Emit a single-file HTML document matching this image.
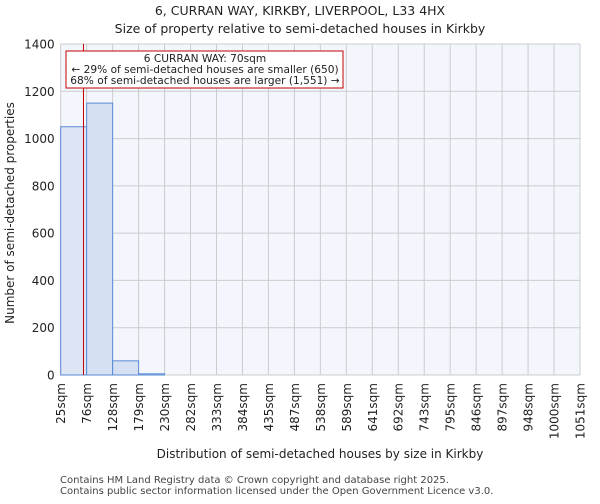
<!DOCTYPE html>
<html><head><meta charset="utf-8"><style>
body{margin:0;background:#fff;font-family:"DejaVu Sans","Liberation Sans",sans-serif}
</style></head><body>
<svg width="600" height="500" xmlns="http://www.w3.org/2000/svg" font-family="DejaVu Sans, Liberation Sans, sans-serif">
<text x="300" y="15" text-anchor="middle" font-size="12.5" fill="#222">6, CURRAN WAY, KIRKBY, LIVERPOOL, L33 4HX</text>
<text x="300" y="33" text-anchor="middle" font-size="12.5" fill="#222">Size of property relative to semi-detached houses in Kirkby</text>
<rect x="60.7" y="44" width="519.3" height="331" fill="#f3f6fd"/>
<g id="grid"></g><g id="bars"></g><g id="axes"></g>
<line id="marker" y1="44" y2="375" stroke="#c00000" stroke-width="1"/>
<rect x="66" y="51" width="277" height="37" fill="#fff" stroke="#c00000" stroke-width="1"/>
<text x="205" y="62" text-anchor="middle" font-size="10.6" fill="#222">6 CURRAN WAY: 70sqm</text>
<text x="205" y="73" text-anchor="middle" font-size="10.6" fill="#222">← 29% of semi-detached houses are smaller (650)</text>
<text x="205" y="84" text-anchor="middle" font-size="10.6" fill="#222">68% of semi-detached houses are larger (1,551) →</text>
<text transform="translate(14,213) rotate(-90)" text-anchor="middle" font-size="12" fill="#222">Number of semi-detached properties</text>
<text x="320" y="458" text-anchor="middle" font-size="12" fill="#222">Distribution of semi-detached houses by size in Kirkby</text>
<text x="60" y="483" font-size="10" fill="#444">Contains HM Land Registry data © Crown copyright and database right 2025.</text>
<text x="60" y="494" font-size="10" fill="#444">Contains public sector information licensed under the Open Government Licence v3.0.</text>
</svg>
<script>
const binLabels=["25sqm","76sqm","128sqm","179sqm","230sqm","282sqm","333sqm","384sqm","435sqm","487sqm","538sqm","589sqm","641sqm","692sqm","743sqm","795sqm","846sqm","897sqm","948sqm","1000sqm","1051sqm"];
const binEdges=[25,76.3,127.6,178.9,230.2,281.5,332.8,384.1,435.4,486.7,538,589.3,640.6,691.9,743.2,794.5,845.8,897.1,948.4,999.7,1051];
const counts=[1050,1150,60,5,0,0,0,0,0,0,0,0,0,0,0,0,0,0,0,0];
const yTicks=[0,200,400,600,800,1000,1200,1400];
const propertySize=70;
const NS="http://www.w3.org/2000/svg";
const X0=60.7,X1=580,Y0=375,Y1=44;
const xs=v=>X0+(v-binEdges[0])/(binEdges[binEdges.length-1]-binEdges[0])*(X1-X0);
const ys=v=>Y0-(v-0)/1400*(Y0-Y1);
function mk(t,a,p){const e=document.createElementNS(NS,t);for(const k in a)e.setAttribute(k,a[k]);p.appendChild(e);return e;}
const grid=document.getElementById('grid'),bars=document.getElementById('bars'),axes=document.getElementById('axes');
yTicks.forEach(v=>{
 const l=mk('line',{x1:X0,x2:X1,y1:ys(v),y2:ys(v),stroke:'#cccccc','stroke-width':1},grid);
 
 
 const t=mk('text',{x:X0-6,y:ys(v)+4.5,'text-anchor':'end','font-size':12,fill:'#222'},axes);
 t.textContent=v;
 
 
});
binEdges.forEach((v,i)=>{
 const l=mk('line',{x1:xs(v),x2:xs(v),y1:Y1,y2:Y0,stroke:'#cccccc','stroke-width':1},grid);
 
 
 const t=mk('text',{transform:`translate(${xs(v)+4.5},${Y0+8}) rotate(-90)`,'text-anchor':'end','font-size':12,fill:'#222'},axes);
 t.textContent=binLabels[i];
 
 
});
counts.forEach((c,i)=>{
 const x=xs(binEdges[i]),w=xs(binEdges[i+1])-x;
 const r=mk('rect',{x:x,y:ys(c),width:w,height:Y0-ys(c),fill:i===0?'#dde5f4':'#d6e0f3',stroke:'#5b8ad6','stroke-width':1},bars);
 
 
});
const m=document.getElementById('marker');m.setAttribute('x1',xs(propertySize));m.setAttribute('x2',xs(propertySize));
</script>
</body></html>
